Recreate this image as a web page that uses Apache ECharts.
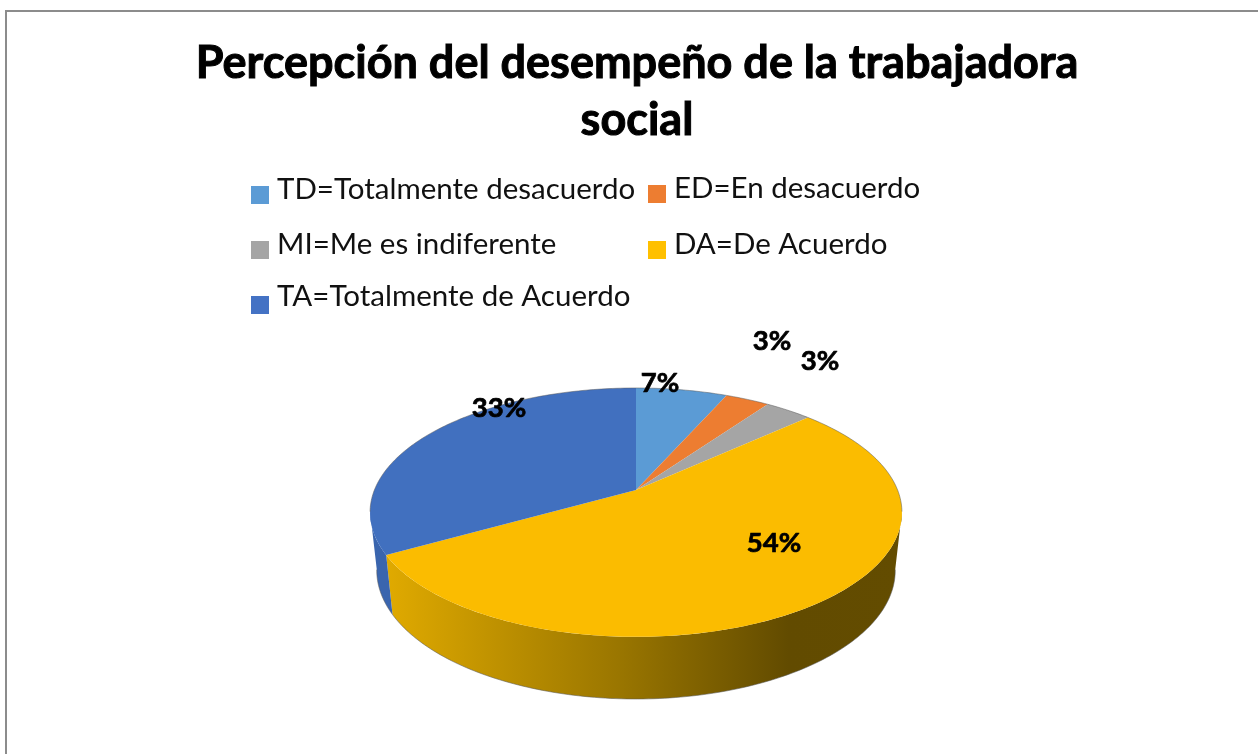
<!DOCTYPE html>
<html><head><meta charset="utf-8">
<style>html,body{margin:0;padding:0;background:#fff}#c{width:1258px;height:754px}</style>
<script src="https://cdn.jsdelivr.net/npm/echarts@6/dist/echarts.min.js"></script>
</head><body><div id="c"></div>
<script>
const categories = ['TD=Totalmente desacuerdo','ED=En desacuerdo','MI=Me es indiferente','DA=De Acuerdo','TA=Totalmente de Acuerdo'];
const values = [6.6,3.2,3.4,53.6,33.2];
const colors = ['#5B9BD5','#ED7D31','#A5A5A5','#FFC000','#4472C4'];
const topColors = ['#5B9BD5','#ED7D31','#A5A5A5','#FBBC00','#4170BF'];
const titleLines = 'Percepción del desempeño de la trabajadora\nsocial';

// layout only (projection of the tilted disc: top face and bottom face)
const P = {x0:636,y0:490,a:261.6,b:120.4,k:0.18};
const Q = {x0:636,y0:547.3,a:255,b:124.4,k:0.18};
const labelAt = [[660,383],[772,341],[820,361],[774,543],[499,408]];
const legendAt = [[251,174,12],[648,173,12],[251,229,12],[648,229,12],[251,281,18]];
const total = values.reduce((s,v)=>s+v,0);
const proj=(F,deg)=>{const t=deg*Math.PI/180,u=Math.sin(t),v=-Math.cos(t),d=1-F.k*v;
  return [F.x0+F.a*u/d,F.y0+F.b*v/d];};
let acc=0;const spans=values.map(v=>{const s=acc/total*360;acc+=v;return [s,acc/total*360];});
const arc=(F,a,b)=>{const n=Math.max(2,Math.ceil(Math.abs(b-a)));const p=[];
  for(let i=0;i<=n;i++)p.push(proj(F,a+(b-a)*i/n));return p;};
const wallFill=i=> i===3
 ? new echarts.graphic.LinearGradient(0,0,1,0,[{offset:0,color:'#E0AA00'},{offset:.45,color:'#9A7600'},{offset:.78,color:'#624B00'},{offset:1,color:'#634C00'}])
 : '#3A65AE';
// visible wall runs between the angles where the rim turns down on each side
const wallFrom=100, wallTo=260;

const series=categories.map((name,i)=>({
  type:'custom',name,coordinateSystem:'none',silent:true,
  itemStyle:{color:colors[i]},
  data:[values[i]],
  clip:false,
  renderItem(){
    const [s,e]=spans[i];const ch=[];
    const ws=Math.max(s,wallFrom),we=Math.min(e,wallTo);
    if(we>ws){
      ch.push({type:'polygon',z2:1,shape:{points:arc(P,ws,we).concat(arc(Q,ws,we).reverse())},style:{fill:wallFill(i)}});
      ch.push({type:'polyline',z2:1,shape:{points:arc(Q,ws,we)},style:{fill:null,stroke:'rgba(90,90,90,.55)',lineWidth:1}});
    }
    ch.push({type:'polygon',z2:2,shape:{points:[[P.x0,P.y0]].concat(arc(P,s,e))},style:{fill:topColors[i]}});
    if(s<wallFrom||e>wallTo){
      const a=s<wallFrom?s:Math.max(s,wallTo), b=s<wallFrom?Math.min(e,wallFrom):e;
      ch.push({type:'polyline',z2:3,shape:{points:arc(P,a,b)},style:{fill:null,stroke:'rgba(90,90,90,.5)',lineWidth:1}});
    }
    ch.push({type:'text',z2:10,style:{text:Math.round(values[i])+'%',x:labelAt[i][0],y:labelAt[i][1],align:'center',verticalAlign:'middle',
      font:'bold 27.5px Lato',fill:'#000',stroke:'#000',lineWidth:0.7}});
    return {type:'group',children:ch};
  }
}));

const chart=echarts.init(document.getElementById('c'),null,{renderer:'canvas'});
chart.setOption({
  animation:false,backgroundColor:'#fff',
  title:{text:titleLines,left:632,textAlign:'center',top:30,
    textStyle:{fontFamily:'Lato',fontWeight:'bold',fontSize:45,lineHeight:57,color:'#000',textBorderColor:'#000',textBorderWidth:1}},
  legend:categories.map((n,i)=>({data:[n],left:legendAt[i][0],top:legendAt[i][1],padding:0,
    itemWidth:18,itemHeight:18,itemGap:0,icon:'rect',selectedMode:false,
    formatter:'{t|{name}}\n{s|}',
    textStyle:{rich:{t:{fontFamily:'Lato',fontSize:29.5,color:'#111',lineHeight:36,padding:[0,0,0,3]},s:{fontSize:1,lineHeight:legendAt[i][2],height:legendAt[i][2]}}}})),
  graphic:[{type:'polyline',silent:true,shape:{points:[[6,760],[6,11],[1262,11]]},style:{stroke:'#8c8c8c',lineWidth:2,fill:null}}],
  series
});
</script></body></html>
